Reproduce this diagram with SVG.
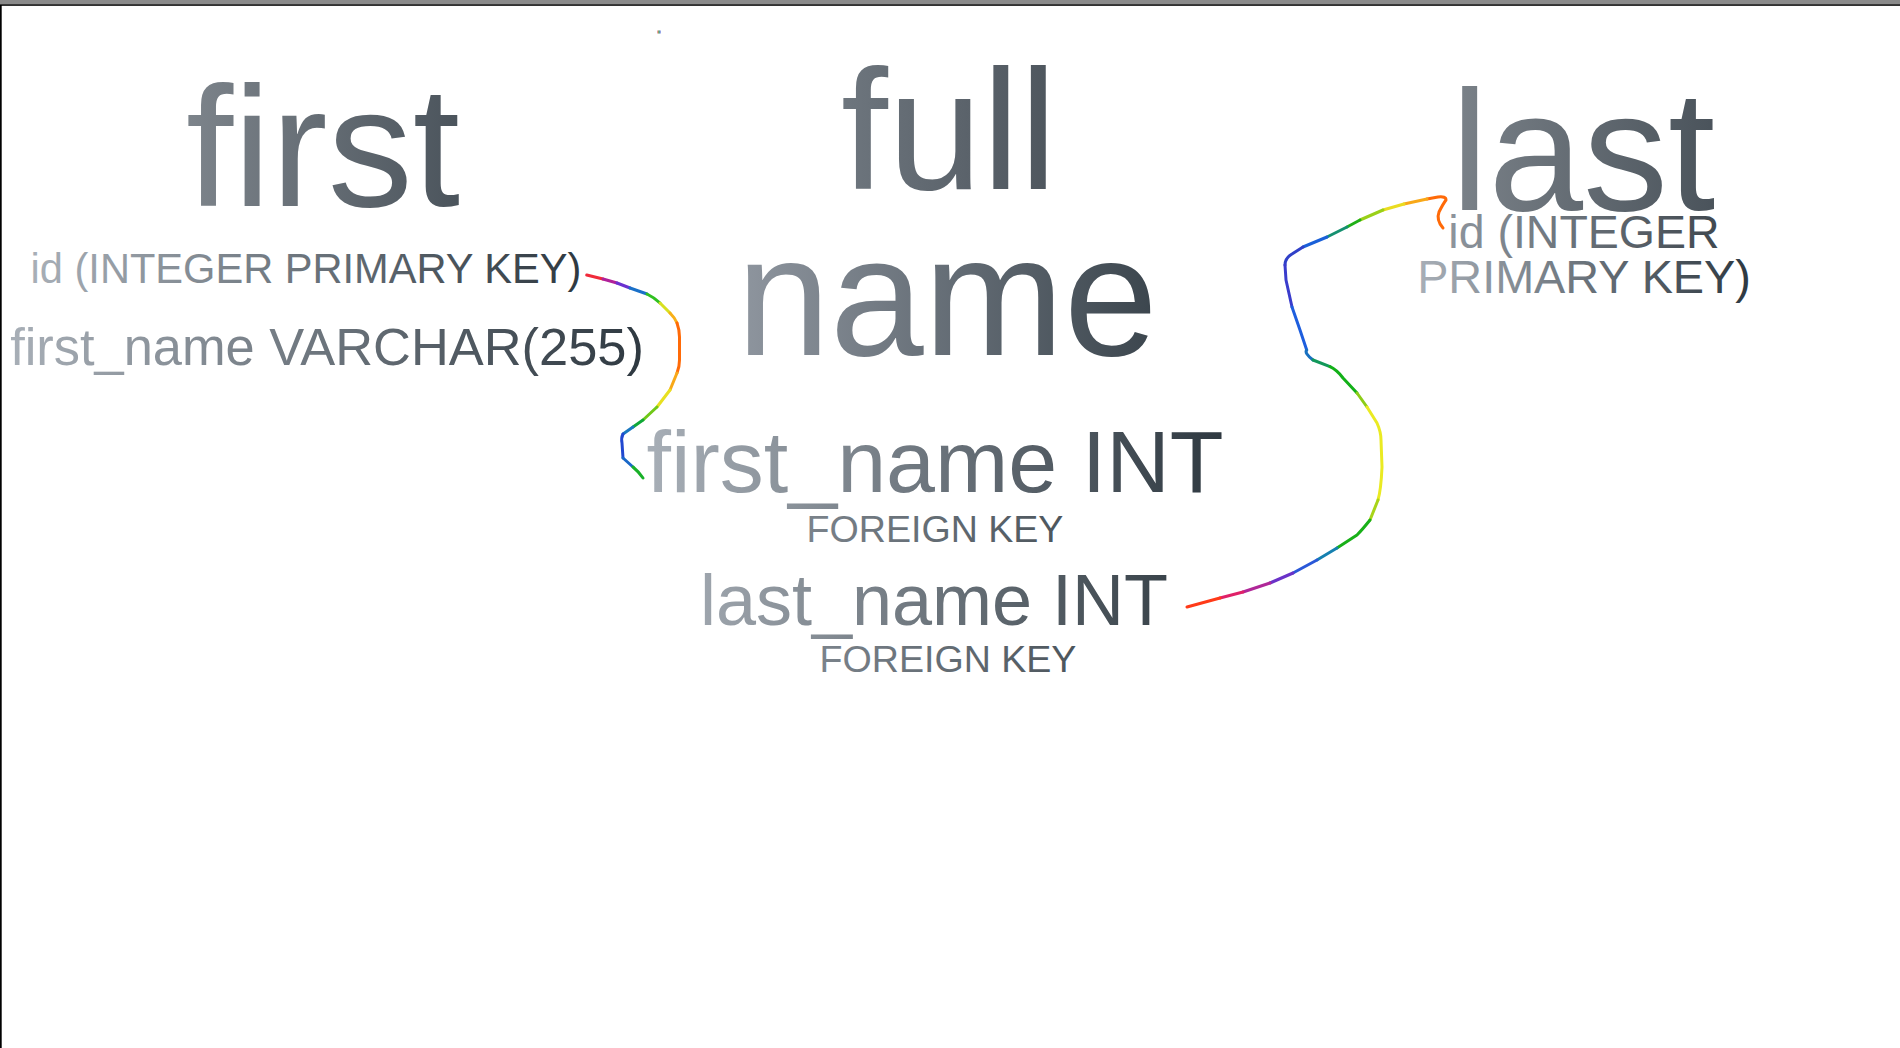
<svg xmlns="http://www.w3.org/2000/svg" width="1900" height="1048" viewBox="0 0 1900 1048">
<style>
  text { font-family: "Liberation Sans", Arial, sans-serif; text-anchor: middle; }
  .title { font-size: 170px; }
  .conn path { fill: none; stroke-width: 3; stroke-linecap: round; stroke-linejoin: round; }
</style>
<defs>
  <linearGradient id="gFirst" x1="0" y1="0" x2="1" y2="0"><stop offset="0" stop-color="#7d848b"/><stop offset="1" stop-color="#4b545c"/></linearGradient>
  <linearGradient id="gFull" x1="0" y1="0" x2="1" y2="0"><stop offset="0" stop-color="#6e767e"/><stop offset="1" stop-color="#4d555d"/></linearGradient>
  <linearGradient id="gName" x1="0" y1="0" x2="1" y2="0"><stop offset="0" stop-color="#8f969f"/><stop offset="1" stop-color="#3b454d"/></linearGradient>
  <linearGradient id="gLast" x1="0" y1="0" x2="1" y2="0"><stop offset="0" stop-color="#7b8289"/><stop offset="1" stop-color="#4a535b"/></linearGradient>
  <linearGradient id="gRow" x1="0" y1="0" x2="1" y2="0"><stop offset="0" stop-color="#a8afb7"/><stop offset="1" stop-color="#2e3840"/></linearGradient>
  <linearGradient id="gRow2" x1="0" y1="0" x2="1" y2="0"><stop offset="0" stop-color="#9ea5ad"/><stop offset="1" stop-color="#39434a"/></linearGradient>
  <linearGradient id="gFK" x1="0" y1="0" x2="1" y2="0"><stop offset="0" stop-color="#7b838b"/><stop offset="1" stop-color="#4c555c"/></linearGradient>
  <linearGradient id="gIdR" x1="0" y1="0" x2="1" y2="0"><stop offset="0" stop-color="#8e959d"/><stop offset="1" stop-color="#40484f"/></linearGradient>
</defs>

<rect x="0" y="0" width="1900" height="1048" fill="#ffffff"/>
<rect x="0" y="0" width="1900" height="4.5" fill="#8a8a8a"/>
<rect x="0" y="4.3" width="1900" height="1.5" fill="#000000"/>
<rect x="0" y="5" width="1.7" height="1043" fill="#000000"/>
<g id="dot">
  <rect x="657.5" y="30.5" width="1" height="3" fill="#e04040"/>
  <rect x="658.5" y="30.5" width="1" height="3" fill="#20b020"/>
  <rect x="659.5" y="30.5" width="1" height="3" fill="#3050d0"/>
</g>

<g id="node-first">
  <text class="title" x="323" y="206" font-size="173" fill="url(#gFirst)">first</text>
  <text x="306" y="283" font-size="41.6" fill="url(#gRow)">id (INTEGER PRIMARY KEY)</text>
  <text x="327" y="365" font-size="52.4" fill="url(#gRow)">first_name VARCHAR(255)</text>
</g>

<g id="node-full-name">
  <text class="title" x="949" y="189" font-size="166" textLength="216" lengthAdjust="spacingAndGlyphs" fill="url(#gFull)">full</text>
  <text class="title" x="947" y="355" font-size="166" textLength="421" lengthAdjust="spacingAndGlyphs" fill="url(#gName)">name</text>
  <text x="935" y="492" font-size="88" fill="url(#gRow)">first_name INT</text>
  <text x="935" y="542" font-size="37.6" fill="url(#gFK)">FOREIGN KEY</text>
  <text x="934" y="625" font-size="72" fill="url(#gRow2)">last_name INT</text>
  <text x="948" y="672" font-size="37.6" fill="url(#gFK)">FOREIGN KEY</text>
</g>

<g id="node-last">
  <text class="title" x="1583" y="210" font-size="170" fill="url(#gLast)">last</text>
  <text x="1584" y="248" font-size="46.5" fill="url(#gIdR)">id (INTEGER</text>
  <text x="1584" y="293" font-size="46.8" fill="url(#gRow)">PRIMARY KEY)</text>
</g>

<g id="connectors" class="conn">
  <g id="conn-first-id">
    <path d="M586.7 275 L603 279" stroke="#f02a3a"/>
    <path d="M603 279 L617 283" stroke="#b0209a"/>
    <path d="M617 283 L630 288" stroke="#6a30d0"/>
    <path d="M630 288 L647 294" stroke="#1a70c8"/>
    <path d="M647 294 Q655 298 660 303" stroke="#30c020"/>
    <path d="M660 303 L670 313" stroke="#d8e020"/>
    <path d="M670 313 Q675 318 677 323" stroke="#f8b018"/>
    <path d="M677 323 Q679.5 330 679.5 337 L679.5 360 Q679.5 367 677 373" stroke="#ff6a08"/>
    <path d="M677 373 L670 390" stroke="#f8a818"/>
    <path d="M670 390 L657 407" stroke="#e8e020"/>
    <path d="M657 407 L643 420" stroke="#70c818"/>
    <path d="M643 420 L633 427" stroke="#10a838"/>
    <path d="M633 427 L623 434" stroke="#1a78c0"/>
    <path d="M623 434 Q621 438 622 443 L623 458" stroke="#2248d0"/>
    <path d="M623 458 L633 467" stroke="#1a68c8"/>
    <path d="M633 467 Q639 472 643 478" stroke="#18b028"/>
  </g>
  <g id="conn-last-id">
    <path d="M1443 228 Q1436 220 1439 212 Q1443 204 1446 200 Q1446 196 1438 197 L1427 199" stroke="#ff6a08"/>
    <path d="M1427 199 L1404 204" stroke="#f8a818"/>
    <path d="M1404 204 L1383 210" stroke="#eadc20"/>
    <path d="M1383 210 L1360 220" stroke="#9ad018"/>
    <path d="M1360 220 L1347 227" stroke="#20b018"/>
    <path d="M1347 227 L1327 237" stroke="#159070"/>
    <path d="M1327 237 L1303 247" stroke="#1a60d8"/>
    <path d="M1303 247 L1292 254 Q1285 258 1285 265" stroke="#3040c8"/>
    <path d="M1285 265 L1286 280 L1292 307" stroke="#3a3ccc"/>
    <path d="M1292 307 L1300 330 L1306.7 350" stroke="#1e5ede"/>
    <path d="M1306.7 350 Q1304 353 1313 360" stroke="#1870c0"/>
    <path d="M1313 360 L1330 366.7" stroke="#12985a"/>
    <path d="M1330 366.7 Q1337 370 1343 378 L1357 393" stroke="#12b018"/>
    <path d="M1357 393 L1367 407" stroke="#8ccc18"/>
    <path d="M1367 407 L1377 423 Q1381 432 1381 440 L1382 467 Q1381 490 1378 500" stroke="#eaea22"/>
    <path d="M1378 500 L1370 520" stroke="#a8d418"/>
    <path d="M1370 520 Q1362 530 1357 535 L1337 548" stroke="#18b018"/>
    <path d="M1337 548 L1317 560" stroke="#1580b0"/>
    <path d="M1317 560 L1293 573" stroke="#2a58d8"/>
    <path d="M1293 573 L1270 583" stroke="#6a32c8"/>
    <path d="M1270 583 L1243 592" stroke="#b02898"/>
    <path d="M1243 592 L1220 598" stroke="#e02068"/>
    <path d="M1220 598 L1187 607" stroke="#ff3a18"/>
  </g>
</g>
</svg>
